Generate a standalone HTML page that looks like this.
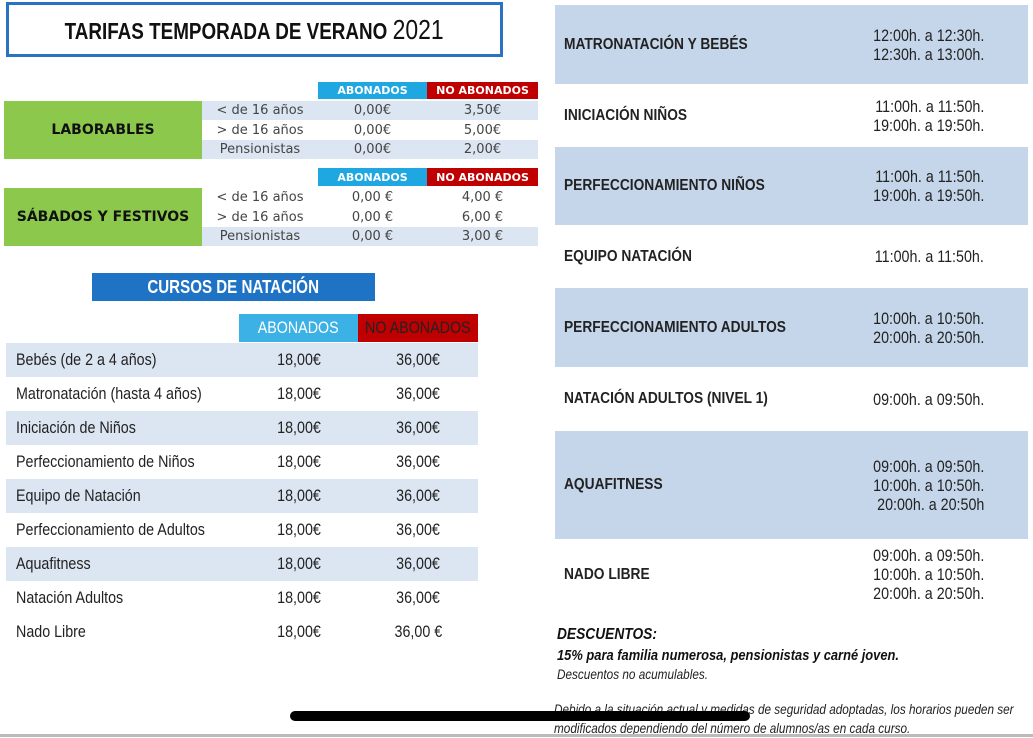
<!DOCTYPE html>
<html><head><meta charset="utf-8"><style>
*{margin:0;padding:0;box-sizing:border-box}
body{width:1033px;height:737px;background:#fff;position:relative;overflow:hidden;font-family:"Liberation Sans",sans-serif;color:#222}
.a{position:absolute}
.c{display:flex;align-items:center;justify-content:center}
.sx{display:inline-block;transform:scaleX(.84);white-space:nowrap}
.sl{transform-origin:left center}
.hb{background:#1ea7e1;color:#fff;font-weight:bold;font-family:"DejaVu Sans",sans-serif;font-size:11px}
.hr{background:#c00000;color:#fff;font-weight:bold;font-family:"DejaVu Sans",sans-serif;font-size:11px}
.g{background:#8cc84b;font-family:"DejaVu Sans",sans-serif;font-weight:bold;font-size:14px;color:#111}
.l{background:#dce6f2}
.t{font-family:"DejaVu Sans",sans-serif;font-size:13px;color:#444}
.cr{font-size:17px;color:#222}
.band{background:#c5d6ea}
.lab{font-weight:bold;font-size:16px;color:#222;transform:scaleX(.86);transform-origin:left center;white-space:nowrap}
.tm{font-size:17px;text-align:right;line-height:19px;color:#222;transform:scaleX(.84);transform-origin:right center;white-space:nowrap}
</style></head><body>
<div class="a c" style="left:6px;top:2px;width:497px;height:55px;border:3px solid #2a72c2;font-weight:bold;font-size:23px;color:#111"><span class="sx" style="transform:scaleX(.82)">TARIFAS TEMPORADA DE VERANO&nbsp;<span style="font-weight:normal;font-size:28px">2021</span></span></div>

<div class="a c hb" style="left:318px;top:82px;width:109px;height:17px">ABONADOS</div>
<div class="a c hr" style="left:427px;top:82px;width:111px;height:17px">NO ABONADOS</div>
<div class="a c g" style="left:4px;top:101px;width:198px;height:58px">LABORABLES</div>
<div class="a l" style="left:202px;top:101px;width:336px;height:19px"></div>
<div class="a l" style="left:202px;top:140px;width:336px;height:19px"></div>
<div class="a c t" style="left:202px;top:101px;width:116px;height:19px">&lt; de 16 años</div>
<div class="a c t" style="left:202px;top:120px;width:116px;height:20px">&gt; de 16 años</div>
<div class="a c t" style="left:202px;top:140px;width:116px;height:19px">Pensionistas</div>
<div class="a c t" style="left:318px;top:101px;width:109px;height:19px">0,00€</div>
<div class="a c t" style="left:318px;top:120px;width:109px;height:20px">0,00€</div>
<div class="a c t" style="left:318px;top:140px;width:109px;height:19px">0,00€</div>
<div class="a c t" style="left:427px;top:101px;width:111px;height:19px">3,50€</div>
<div class="a c t" style="left:427px;top:120px;width:111px;height:20px">5,00€</div>
<div class="a c t" style="left:427px;top:140px;width:111px;height:19px">2,00€</div>

<div class="a c hb" style="left:318px;top:168px;width:109px;height:18px">ABONADOS</div>
<div class="a c hr" style="left:427px;top:168px;width:111px;height:18px">NO ABONADOS</div>
<div class="a c g" style="left:4px;top:188px;width:198px;height:58px">SÁBADOS Y FESTIVOS</div>
<div class="a l" style="left:202px;top:227px;width:336px;height:19px"></div>
<div class="a c t" style="left:202px;top:188px;width:116px;height:19px">&lt; de 16 años</div>
<div class="a c t" style="left:202px;top:207px;width:116px;height:20px">&gt; de 16 años</div>
<div class="a c t" style="left:202px;top:227px;width:116px;height:19px">Pensionistas</div>
<div class="a c t" style="left:318px;top:188px;width:109px;height:19px">0,00 €</div>
<div class="a c t" style="left:318px;top:207px;width:109px;height:20px">0,00 €</div>
<div class="a c t" style="left:318px;top:227px;width:109px;height:19px">0,00 €</div>
<div class="a c t" style="left:427px;top:188px;width:111px;height:19px">4,00 €</div>
<div class="a c t" style="left:427px;top:207px;width:111px;height:20px">6,00 €</div>
<div class="a c t" style="left:427px;top:227px;width:111px;height:19px">3,00 €</div>

<div class="a c" style="left:92px;top:273px;width:283px;height:28px;background:#1f73c4;color:#fff;font-weight:bold;font-size:18px"><span class="sx">CURSOS DE NATACIÓN</span></div>
<div class="a c" style="left:239px;top:314px;width:119px;height:28px;background:#3cb1e6;color:#fff;font-size:17px"><span class="sx">ABONADOS</span></div>
<div class="a c" style="left:358px;top:314px;width:120px;height:28px;background:#c00000;color:#222;font-size:17px"><span class="sx">NO ABONADOS</span></div>
<div id="rows"></div>
<script>
var names=["Bebés  (de 2 a 4 años)","Matronatación (hasta 4 años)","Iniciación de Niños","Perfeccionamiento de Niños","Equipo de Natación","Perfeccionamiento de Adultos","Aquafitness","Natación Adultos","Nado Libre"];
var h="";
names.forEach(function(n,i){var y=343+i*34;
if(i%2==0&&i<8)h+='<div class="a l" style="left:6px;top:'+y+'px;width:472px;height:34px"></div>';
h+='<div class="a cr" style="left:16px;top:'+(y+7)+'px"><span class="sx sl">'+n+'</span></div>';
h+='<div class="a c cr" style="left:239px;top:'+y+'px;width:119px;height:34px"><span class="sx">18,00€</span></div>';
h+='<div class="a c cr" style="left:358px;top:'+y+'px;width:120px;height:34px"><span class="sx">'+(i==8?'36,00 €':'36,00€')+'</span></div>';});
var b=[["MATRONATACIÓN Y BEBÉS",5,84,1,["12:00h. a 12:30h.","12:30h. a 13:00h."]],["INICIACIÓN NIÑOS",84,147,0,["11:00h. a 11:50h.","19:00h. a 19:50h."]],["PERFECCIONAMIENTO NIÑOS",147,225,1,["11:00h. a 11:50h.","19:00h. a 19:50h."]],["EQUIPO NATACIÓN",225,288,0,["11:00h. a 11:50h."]],["PERFECCIONAMIENTO ADULTOS",288,367,1,["10:00h. a 10:50h.","20:00h. a 20:50h."]],["NATACIÓN ADULTOS (NIVEL 1)",367,431,0,["09:00h. a 09:50h."]],["AQUAFITNESS",431,539,1,["09:00h. a 09:50h.","10:00h. a 10:50h.","20:00h. a 20:50h"]],["NADO LIBRE",539,610,0,["09:00h. a 09:50h.","10:00h. a 10:50h.","20:00h. a 20:50h."]]];
b.forEach(function(r){var y=r[1],hh=r[2]-r[1];
if(r[3])h+='<div class="a band" style="left:555px;top:'+y+'px;width:473px;height:'+hh+'px"></div>';
h+='<div class="a lab" style="left:564px;top:'+(y+hh/2-9)+'px">'+r[0]+'</div>';
var th=r[4].length*19;
h+='<div class="a tm" style="right:49px;top:'+(y+hh/2-th/2)+'px">'+r[4].join('<br>')+'</div>';});
document.getElementById('rows').innerHTML=h;
</script>
<div class="a" style="left:557px;top:626px;font-weight:bold;font-style:italic;font-size:16px;color:#111;transform:scaleX(.86);transform-origin:left;white-space:nowrap">DESCUENTOS:</div>
<div class="a" style="left:557px;top:647px;font-weight:bold;font-style:italic;font-size:15px;color:#111;transform:scaleX(.86);transform-origin:left;white-space:nowrap">15% para familia numerosa, pensionistas y carné joven.</div>
<div class="a" style="left:557px;top:666px;font-style:italic;font-size:14px;color:#222;transform:scaleX(.84);transform-origin:left;white-space:nowrap">Descuentos no acumulables.</div>
<div class="a" style="left:554px;top:700px;font-style:italic;font-size:14px;color:#222;line-height:19px;transform:scaleX(.84);transform-origin:left;white-space:nowrap">Debido a la situación actual y medidas de seguridad adoptadas, los horarios pueden ser<br>modificados dependiendo del número de alumnos/as en cada curso.</div>
<div class="a" style="left:290px;top:711px;width:460px;height:10px;border-radius:5px;background:#000"></div>
<div class="a" style="left:0;top:734px;width:1033px;height:3px;background:#bbb"></div>
</body></html>
